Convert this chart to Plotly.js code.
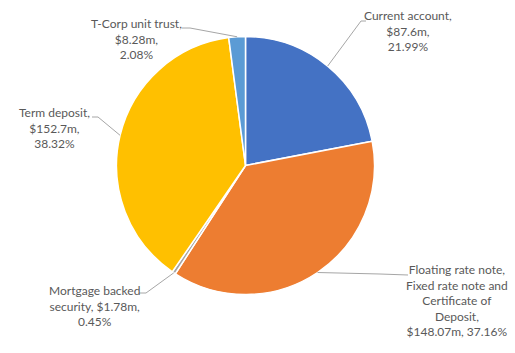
<!DOCTYPE html>
<html>
<head>
<meta charset="utf-8">
<script src="https://cdn.plot.ly/plotly-3.0.1.min.js"></script>
<style>html,body{margin:0;padding:0;background:#fff;}#chart{width:515px;height:353px;}</style>
</head>
<body>
<div id="chart"></div>
<script>
// Data
var categories = ["Current account", "Floating rate note, Fixed rate note and Certificate of Deposit", "Mortgage backed security", "Term deposit", "T-Corp unit trust"];
var values = [87.6, 148.07, 1.78, 152.7, 8.28];
var valueLabels = ["$87.6m", "$148.07m", "$1.78m", "$152.7m", "$8.28m"];
var percentLabels = ["21.99%", "37.16%", "0.45%", "38.32%", "2.08%"];
var colors = ["#4472C4", "#ED7D31", "#A5A5A5", "#FFC000", "#5B9BD5"];

// Label texts (line breaks as in the chart)
var labelTexts = [
  "Current account,<br>" + valueLabels[0] + ",<br>" + percentLabels[0],
  "Floating rate note,<br>Fixed rate note and<br>Certificate of<br>Deposit,<br>" + valueLabels[1] + ", " + percentLabels[1],
  "Mortgage backed<br>security, " + valueLabels[2] + ",<br>" + percentLabels[2],
  "Term deposit,<br>" + valueLabels[3] + ",<br>" + percentLabels[3],
  "T-Corp unit trust,<br>" + valueLabels[4] + ",<br>" + percentLabels[4]
];

var W = 515, H = 353;
var cx = 245.5, cy = 165.5, R = 129;
function px(x){ return x / W; }
function py(y){ return 1 - y / H; }

// Label layout (pixel positions): text centre, elbow point, text-side end
var labelPos = [
  {tx: 408, ty: 31.5, elbow: [361, 21], end: [366, 21]},
  {tx: 457, ty: 300, elbow: [380, 274], end: [408, 275]},
  {tx: 94, ty: 305.5, elbow: [146, 293], end: [139, 293]},
  {tx: 54.5, ty: 127.5, elbow: [98, 117], end: [92, 117]},
  {tx: 136.5, ty: 39, elbow: [190, 28], end: [182, 28]}
];

var total = values.reduce(function(a,b){return a+b;}, 0);
var shapes = [], annotations = [];
var cum = 0;
for (var i = 0; i < values.length; i++) {
  var mid = (cum + values[i] / 2) / total * 2 * Math.PI;
  cum += values[i];
  var ex = cx + R * Math.sin(mid), ey = cy - R * Math.cos(mid);
  var p = labelPos[i];
  shapes.push({
    type: "path", xref: "paper", yref: "paper",
    path: "M " + px(ex) + "," + py(ey) + " L " + px(p.elbow[0]) + "," + py(p.elbow[1]) + " L " + px(p.end[0]) + "," + py(p.end[1]),
    line: {color: "#A6A6A6", width: 1}
  });
  annotations.push({
    xref: "paper", yref: "paper", x: px(p.tx), y: py(p.ty),
    xanchor: "center", yanchor: "middle", align: "center",
    showarrow: false, text: labelTexts[i],
    font: {family: "Lato, 'Liberation Sans', sans-serif", size: 12, color: "#595959"}
  });
}

var trace = {
  type: "pie",
  labels: categories,
  values: values,
  sort: false,
  direction: "clockwise",
  rotation: 0,
  textinfo: "none",
  hoverinfo: "label+value+percent",
  marker: {colors: colors, line: {color: "#FFFFFF", width: 1.5}},
  domain: {x: [px(cx - R), px(cx + R)], y: [py(cy + R), py(cy - R)]},
  showlegend: false
};

var layout = {
  width: W, height: H,
  margin: {l: 0, r: 0, t: 0, b: 0},
  paper_bgcolor: "#FFFFFF",
  showlegend: false,
  shapes: shapes,
  annotations: annotations
};

Plotly.newPlot("chart", [trace], layout, {displayModeBar: false, staticPlot: true});
</script>
</body>
</html>
